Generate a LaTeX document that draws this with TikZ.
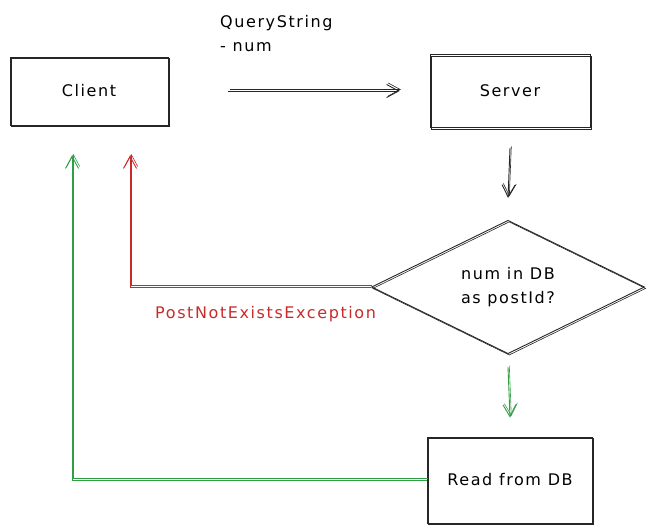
\documentclass[tikz,border=0pt]{standalone}
\usepackage{fontspec}
\setmainfont[LetterSpace=10]{DejaVu Sans}
\usetikzlibrary{shapes.geometric,arrows.meta}
\definecolor{skred}{HTML}{C92A2A}
\definecolor{skgreen}{HTML}{2F9E44}
\tikzset{
  sk/.style={draw=#1, line width=0.9pt,
    postaction={draw=#1, line width=0.6pt, transform canvas={shift={(1.2pt,-1.4pt)}}}},
  sk/.default=black!85,
  box/.style={sk, rectangle, inner sep=0pt, font=\fontsize{16}{17}\selectfont},
  decision/.style={sk, diamond, inner sep=0pt, align=center, font=\fontsize{16}{24}\selectfont},
  flow/.style={line width=0.9pt, draw=#1, -{Straight Barb[length=12pt,width=13pt]},
    postaction={draw=#1, line width=0.6pt, -{Straight Barb[length=12pt,width=13pt]}, transform canvas={shift={(1.3pt,1.5pt)}}}},
  flow/.default=black!85,
  lbl/.style={font=\fontsize{16}{24}\selectfont, align=left, inner sep=0pt}
}
\begin{document}
\begin{tikzpicture}[x=1pt,y=-1pt]
\useasboundingbox (0,0) rectangle (655,528);
\node[box, minimum width=158pt, minimum height=68pt] (client) at (89,91) {Client};
\node[box, minimum width=160pt, minimum height=73pt] (server) at (510,91) {Server};
\node[decision, minimum width=273pt, minimum height=130pt] (dec) at (508,287) {num in DB\\as postId?};
\node[box, minimum width=165pt, minimum height=86pt] (read) at (510,480) {Read from DB};
\node[lbl, anchor=north west] (qs) at (220,15) {QueryString\\- num};
\node[lbl, text=skred, anchor=west] (exc) at (155,314) {PostNotExistsException};
\coordinate (redend) at ([shift={(41pt,-30pt)}]client.south);
\coordinate (greenend) at ([shift={(-17pt,-30pt)}]client.south);
\draw[flow] ([xshift=60pt]client.east) -- ([xshift=-30pt]server.west);
\draw[flow] ([yshift=-20pt]server.south) -- ([yshift=22pt]dec.north);
\draw[flow=skgreen] ([yshift=-13pt]dec.south) -- ([yshift=19pt]read.north);
\draw[flow=skred] (dec.west) -| (redend);
\draw[flow=skgreen] (read.west) -| (greenend);
\end{tikzpicture}
\end{document}
